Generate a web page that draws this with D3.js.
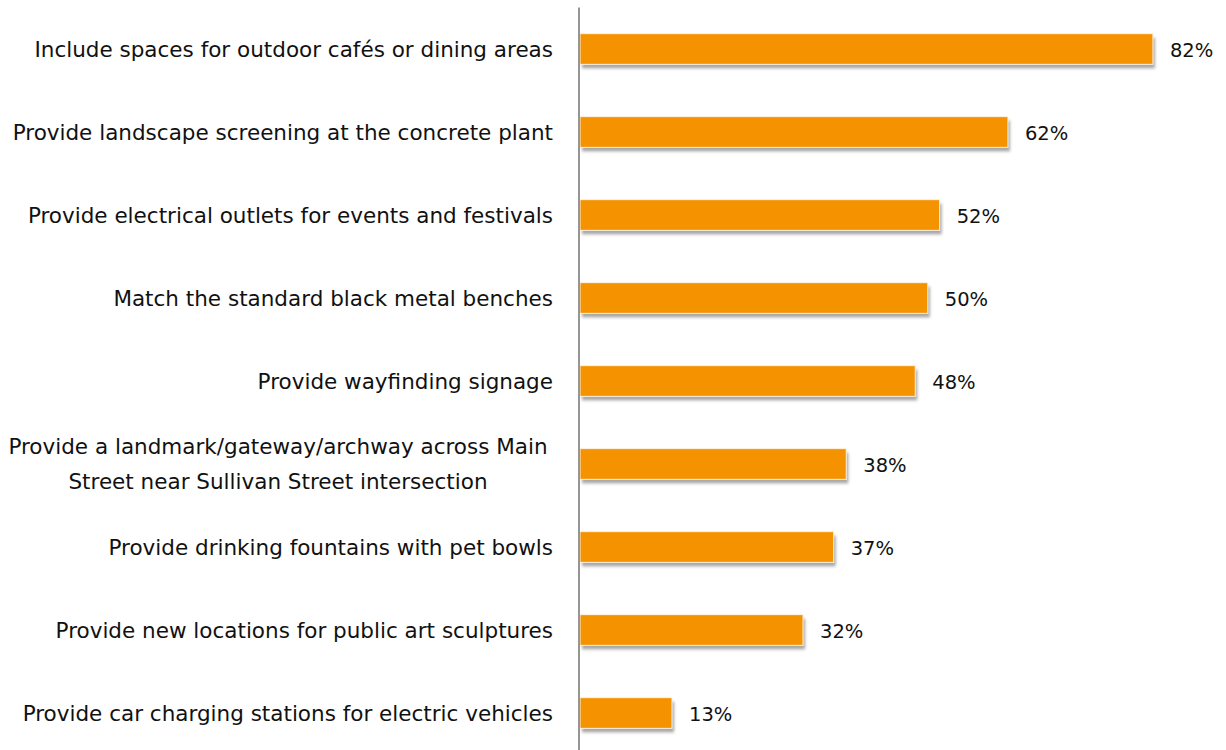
<!DOCTYPE html>
<html>
<head>
  <meta charset="UTF-8">
  <title>Streetscape preferences</title>
  <script src="https://cdn.jsdelivr.net/npm/d3@7"></script>
  <style>
    body { margin: 0; background: #fff; }
    text { font-family: "DejaVu Sans", sans-serif; fill: #111; }
  </style>
</head>
<body>
  <script>
    // categories, top to bottom
    var categories = [
      'Include spaces for outdoor cafés or dining areas',
      'Provide landscape screening at the concrete plant',
      'Provide electrical outlets for events and festivals',
      'Match the standard black metal benches',
      'Provide wayfinding signage',
      'Provide a landmark/gateway/archway across Main Street near Sullivan Street intersection',
      'Provide drinking fountains with pet bowls',
      'Provide new locations for public art sculptures',
      'Provide car charging stations for electric vehicles'
    ];
    // share of respondents
    var values = [0.822, 0.614, 0.516, 0.499, 0.481, 0.382, 0.364, 0.320, 0.132];
    var valueLabels = ['82%', '62%', '52%', '50%', '48%', '38%', '37%', '32%', '13%'];
    // wrapped category label lines
    var labelLines = [
      ['Include spaces for outdoor cafés or dining areas'],
      ['Provide landscape screening at the concrete plant'],
      ['Provide electrical outlets for events and festivals'],
      ['Match the standard black metal benches'],
      ['Provide wayfinding signage'],
      ['Provide a landmark/gateway/archway across Main', 'Street near Sullivan Street intersection'],
      ['Provide drinking fountains with pet bowls'],
      ['Provide new locations for public art sculptures'],
      ['Provide car charging stations for electric vehicles']
    ];

    var width = 1226, height = 750;
    var x0 = 580;
    var fs = 21.5;   // category labels
    var vfs = 19.5;  // value labels

    var svg = d3.select('body').append('svg')
        .attr('width', width)
        .attr('height', height);

    var defs = svg.append('defs');
    defs.append('filter')
        .attr('id', 'shadow')
        .attr('x', '-5%').attr('y', '-30%')
        .attr('width', '110%').attr('height', '160%')
      .append('feGaussianBlur')
        .attr('stdDeviation', 1.6);

    var x = d3.scaleLinear().domain([0, 1]).range([x0, x0 + 697]);
    var y = d3.scaleBand()
        .domain(categories)
        .range([7.5, 754.5])
        .paddingInner(0.63)
        .paddingOuter(0.315);

    // bar shadows
    svg.append('g').selectAll('rect')
        .data(values)
        .enter().append('rect')
        .attr('x', x(0) + 2)
        .attr('y', function (d, i) { return y(categories[i]) + 4; })
        .attr('width', function (d) { return x(d) - x(0); })
        .attr('height', y.bandwidth())
        .attr('fill', '#8a8a8a')
        .attr('opacity', 0.75)
        .attr('filter', 'url(#shadow)');

    // bars
    svg.append('g').selectAll('rect')
        .data(values)
        .enter().append('rect')
        .attr('x', x(0))
        .attr('y', function (d, i) { return y(categories[i]); })
        .attr('width', function (d) { return x(d) - x(0); })
        .attr('height', y.bandwidth())
        .attr('fill', '#f59200')
        .attr('stroke', '#fdf3e6')
        .attr('stroke-width', 1);

    // value labels
    svg.append('g').selectAll('text')
        .data(values)
        .enter().append('text')
        .attr('x', function (d) { return x(d) + 17; })
        .attr('y', function (d, i) { return y(categories[i]) + y.bandwidth() / 2 + 8; })
        .attr('font-size', vfs)
        .text(function (d, i) { return valueLabels[i]; });

    // category labels
    var lab = svg.append('g').selectAll('text')
        .data(categories)
        .enter().append('text')
        .attr('font-size', fs)
        .attr('y', function (d) { return y(d) + y.bandwidth() / 2 + 7.5; })
        .attr('text-anchor', function (d, i) { return labelLines[i].length > 1 ? 'middle' : 'end'; })
        .attr('x', function (d, i) { return labelLines[i].length > 1 ? 278 : 553; });

    lab.each(function (d, i) {
      var lines = labelLines[i];
      var lh = 35;
      var t = d3.select(this);
      lines.forEach(function (line, j) {
        t.append('tspan')
            .attr('x', t.attr('x'))
            .attr('dy', j === 0 ? -(lines.length - 1) * lh / 2 : lh)
            .text(line);
      });
    });

    // vertical axis line
    svg.append('line')
        .attr('x1', x0 - 1).attr('x2', x0 - 1)
        .attr('y1', 7.5).attr('y2', height)
        .attr('stroke', '#959595')
        .attr('stroke-width', 2);
  </script>
</body>
</html>
